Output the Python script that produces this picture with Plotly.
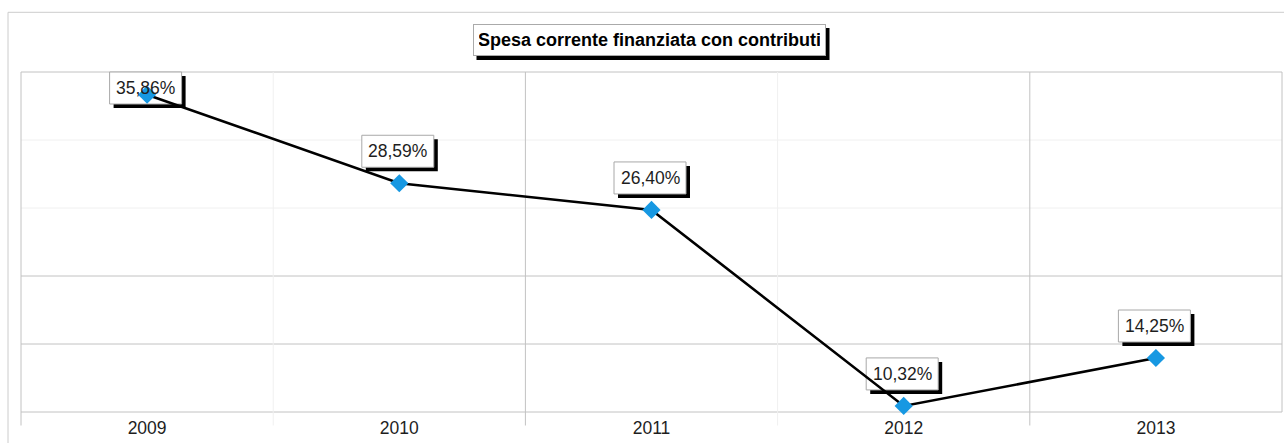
import plotly.graph_objects as go

# Quota di spesa corrente finanziata con contributi, per anno (%)
years = ["2009", "2010", "2011", "2012", "2013"]
quota = [35.86, 28.59, 26.40, 10.32, 14.25]
title_text = "Spesa corrente finanziata con contributi"

# ---- page geometry -------------------------------------------------------
W, H = 1284, 443
M = dict(l=21, r=2, t=72, b=31)
plot_w = W - M["l"] - M["r"]
plot_h = H - M["t"] - M["b"]
y_lo, y_hi = 9.82, 37.72
x_lo, x_hi = -0.5, len(years) - 0.5

FONT = "Liberation Sans, Arial, sans-serif"
TEXT = "#1e1e1e"
GRID_ON = "#c2c2c2"
GRID_OFF = "#f0f0f0"
FRAME = "#cccccc"
MARKER = "#1798e2"

# label box geometry (pixels)
BOX_W, BOX_H, GAP, DX, SHADOW = 72, 32, 16, -1.5, 4
# title box geometry (pixels)
TITLE_W, TITLE_H, TITLE_DX = 353, 32, -2


def fmt(v):
    return f"{v:.2f}".replace(".", ",") + "%"


shapes = []

# outer chart frame
shapes.append(dict(
    type="rect", xref="paper", yref="paper", layer="below",
    x0=-13 / plot_w, x1=1 + 10 / plot_w,
    y0=-(M["b"] + 10) / plot_h, y1=1 + 59.7 / plot_h,
    line=dict(color=FRAME, width=1), fillcolor="rgba(0,0,0,0)",
))

# horizontal grid (5 bands)
h_colors = [GRID_ON, GRID_ON, GRID_ON, GRID_OFF, GRID_OFF, GRID_ON]
for k, col in enumerate(h_colors):
    f = k / 5
    shapes.append(dict(type="line", xref="paper", yref="paper", layer="below",
                       x0=0, x1=1, y0=f, y1=f, line=dict(color=col, width=1)))

# vertical grid on category boundaries, with short ticks below the axis
n = len(years)
v_colors = [GRID_ON, GRID_OFF, GRID_ON, GRID_OFF, GRID_ON, GRID_ON]
tick_len = 13.5 / plot_h
for j in range(n + 1):
    f = j / n
    y0 = -tick_len if j < n else 0
    shapes.append(dict(type="line", xref="paper", yref="paper", layer="below",
                       x0=f, x1=f, y0=y0, y1=1,
                       line=dict(color=v_colors[j], width=1)))

# value label boxes (shadow + white box) anchored on each point
annotations = []
for i, v in enumerate(quota):
    top_px = (v - y_lo) / (y_hi - y_lo) * plot_h + GAP + BOX_H
    if top_px > plot_h:
        yref, yanchor, b0 = "paper", 1, -BOX_H
    else:
        yref, yanchor, b0 = "y", v, GAP
    for off, fill, line in [(SHADOW, "#000000", None), (0, "#ffffff", "#a8a8a8")]:
        shapes.append(dict(
            type="rect", xref="x", yref=yref, layer="below",
            xsizemode="pixel", ysizemode="pixel",
            xanchor=i, yanchor=yanchor,
            x0=DX - BOX_W / 2 + off, x1=DX + BOX_W / 2 + off,
            y0=b0 - off, y1=b0 + BOX_H - off,
            fillcolor=fill,
            line=dict(color=line or fill, width=1 if line else 0),
        ))
    annotations.append(dict(
        x=i, xref="x", y=yanchor, yref=yref,
        yshift=b0 + BOX_H / 2, xshift=DX,
        yanchor="middle", xanchor="center", showarrow=False,
        text=fmt(v), font=dict(family=FONT, size=17.5, color=TEXT),
    ))

# boxed title with drop shadow
title_y = 1 + (M["t"] - 40) / plot_h
shapes.append(dict(
    type="rect", xref="paper", yref="paper", layer="below",
    xsizemode="pixel", ysizemode="pixel", xanchor=0.5, yanchor=title_y,
    x0=TITLE_DX - TITLE_W / 2 + 3.5, x1=TITLE_DX + TITLE_W / 2 + 3.5,
    y0=-TITLE_H / 2 - 4, y1=TITLE_H / 2 - 4,
    fillcolor="#000000", line=dict(width=0),
))
annotations.append(dict(
    x=0.5, xref="paper", y=title_y, yref="paper",
    xshift=TITLE_DX, xanchor="center", yanchor="middle",
    showarrow=False, text=f"<b>{title_text}</b>",
    font=dict(family=FONT, size=18, color="#000000"),
    bgcolor="#ffffff", bordercolor="#aaaaaa", borderwidth=1, borderpad=5,
    width=TITLE_W - 12, height=TITLE_H - 12,
))

fig = go.Figure(go.Scatter(
    x=years, y=quota, mode="lines+markers",
    line=dict(color="#000000", width=2.6),
    marker=dict(symbol="diamond", size=14, color=MARKER,
                line=dict(width=0)),
    cliponaxis=False, hoverinfo="skip",
))

fig.update_layout(
    width=W, height=H, margin=M,
    paper_bgcolor="#ffffff", plot_bgcolor="#ffffff",
    showlegend=False,
    shapes=shapes, annotations=annotations,
    xaxis=dict(type="category", range=[x_lo, x_hi], showgrid=False,
               zeroline=False, showline=False, ticks="",
               ticklabelstandoff=3,
               tickfont=dict(family=FONT, size=17.5, color=TEXT)),
    yaxis=dict(range=[y_lo, y_hi], showgrid=False, zeroline=False,
               showline=False, showticklabels=False),
)

fig.write_html("out.html")
